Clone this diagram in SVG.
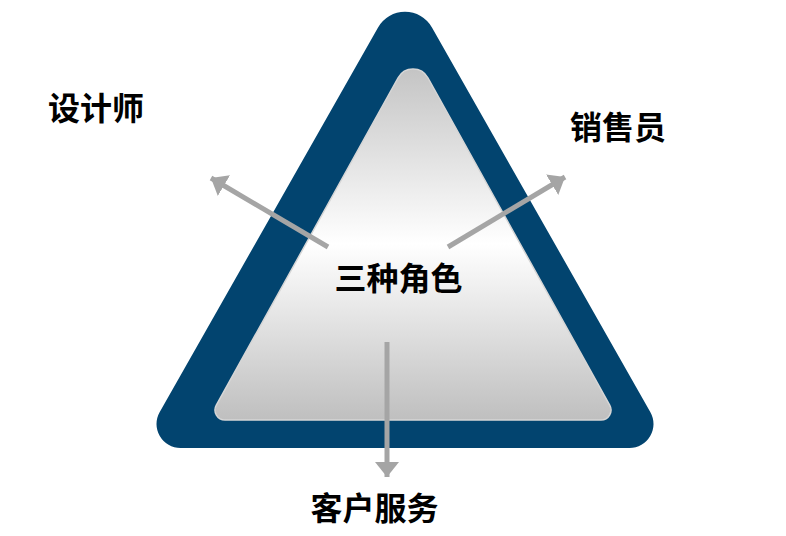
<svg xmlns="http://www.w3.org/2000/svg" width="786" height="536" viewBox="0 0 786 536">
  <style>
    .lbl { font-family: "Noto Sans CJK SC", "Noto Sans", sans-serif; font-weight: 700; font-size: 32px; fill: #000; text-anchor: middle; }
    .arrow { stroke: #a5a5a5; stroke-width: 5; fill: none; marker-end: url(#head); }
  </style>
  <defs>
    <linearGradient id="innerGrad" gradientUnits="userSpaceOnUse" x1="0" y1="68" x2="0" y2="420">
      <stop offset="0" stop-color="#c4c4c4"/>
      <stop offset="0.5" stop-color="#ffffff"/>
      <stop offset="1" stop-color="#bfbfbf"/>
    </linearGradient>
    <marker id="head" markerUnits="userSpaceOnUse" markerWidth="24" markerHeight="24" refX="15" refY="12" orient="auto">
      <path d="M0,0 L15,12 L0,24 Z" fill="#a5a5a5"/>
    </marker>
  </defs>
  <rect width="786" height="536" fill="#ffffff"/>
  <g id="triangle">
    <path d="M378.05 27.48 A31 31 0 0 1 431.95 27.48 L650.4 412.2 A24 24 0 0 1 629.5 448 L180.5 448 A24 24 0 0 1 159.6 412.2 Z" fill="#02446f"/>
    <path d="M398.1 77.75 A17 17 0 0 1 427.9 77.75 L609.7 405.1 A10 10 0 0 1 601 420 L225 420 A10 10 0 0 1 216.3 405.1 Z" fill="url(#innerGrad)" stroke="#d6d6d6" stroke-width="1.5"/>
  </g>
  <g id="connectors">
    <line class="arrow" x1="328" y1="247" x2="211" y2="178"/>
    <line class="arrow" x1="448" y1="247" x2="565" y2="177"/>
    <line class="arrow" x1="387" y1="342" x2="387" y2="477"/>
  </g>
  <g id="node-center"><text class="lbl" x="398.5" y="290">三种角色</text></g>
  <g id="node-designer"><text class="lbl" x="96" y="120">设计师</text></g>
  <g id="node-sales"><text class="lbl" x="618" y="139">销售员</text></g>
  <g id="node-service"><text class="lbl" x="374.5" y="520">客户服务</text></g>
</svg>
